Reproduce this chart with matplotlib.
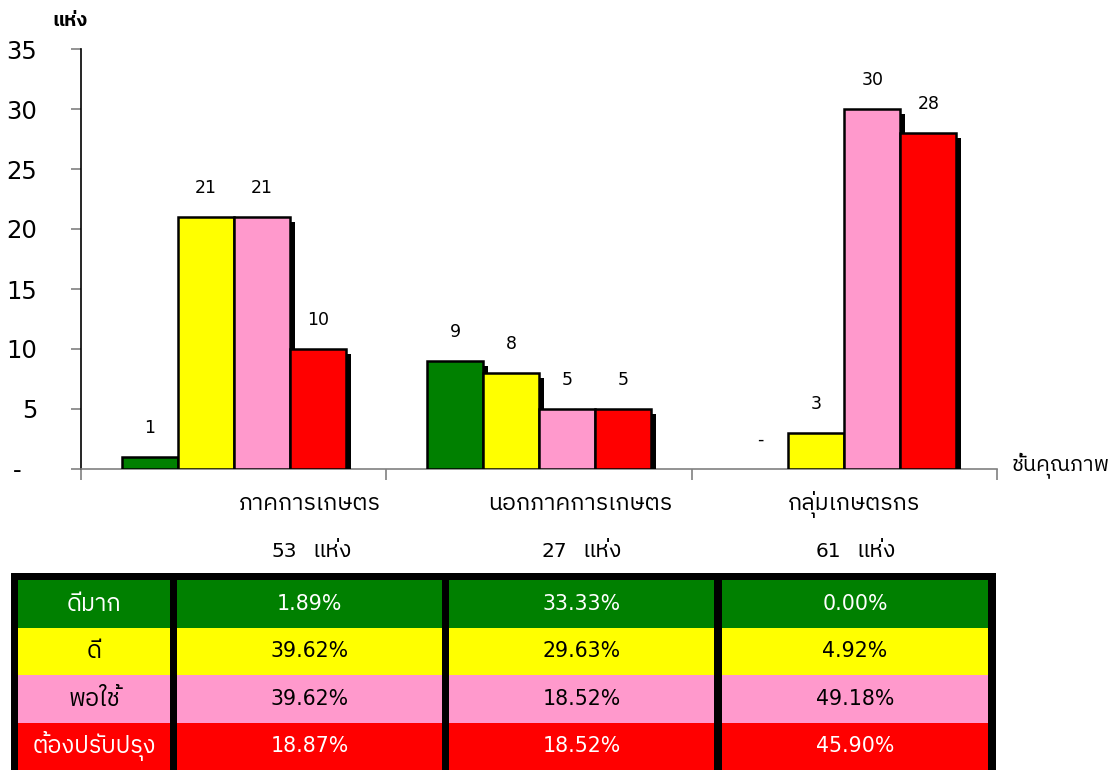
import numpy as np
import matplotlib
matplotlib.use("Agg")
import matplotlib.pyplot as plt
import matplotlib.patheffects as pe
from matplotlib import font_manager
from matplotlib.patches import Rectangle

# ---- data ----
categories = ["ภาคการเกษตร", "นอกภาคการเกษตร", "กลุ่มเกษตรกร"]
totals = [53, 27, 61]
levels = ["ดีมาก", "ดี", "พอใช้", "ต้องปรับปรุง"]
very_good = [1, 9, 0]
good = [21, 8, 3]
fair = [21, 5, 30]
improve = [10, 5, 28]
pct_agri = [1.89, 39.62, 39.62, 18.87]
pct_nonagri = [33.33, 29.63, 18.52, 18.52]
pct_group = [0.00, 4.92, 49.18, 45.90]
yticks = [0, 5, 10, 15, 20, 25, 30, 35]

colors = ["#008000", "#FFFF00", "#FF99CC", "#FF0000"]
text_colors = ["white", "black", "black", "white"]


def find_thai_font():
    try:
        from fontTools.ttLib import TTFont
    except Exception:
        return None
    found = []
    for f in font_manager.fontManager.ttflist:
        try:
            tt = TTFont(f.fname, fontNumber=0, lazy=True)
            cmap = tt.getBestCmap()
        except Exception:
            continue
        if cmap and 0x0E01 in cmap and 0x0E48 in cmap:
            found.append(f)
    if not found:
        return None
    found.sort(key=lambda f: (f.weight not in (400, "normal", "regular"),
                              "Thai" not in f.name))
    return found[0].name


thai = find_thai_font()
fams = ["DejaVu Sans"] + ([thai] if thai else [])
plt.rcParams["font.family"] = fams
TH = 1.19  # thai glyphs come out smaller than the latin ones, scale them up

fig = plt.figure(figsize=(11.09, 7.70), dpi=100)
W, H = 1109, 770

# ---- bar chart ----
ax = fig.add_axes([81 / W, 301 / H, 916 / W, 420 / H])
x = np.arange(len(categories))
w = 0.1834
series = [very_good, good, fair, improve]
shadow = [pe.SimplePatchShadow(offset=(3.6, -3.4), shadow_rgbFace="black", alpha=1.0),
          pe.Normal()]
for i, (vals, c) in enumerate(zip(series, colors)):
    pos = x + (i - 1.5) * w
    bars = ax.bar(pos, vals, width=w, color=c, edgecolor="black", linewidth=1.8,
                  zorder=3)
    for b, v in zip(bars, vals):
        if v == 0:
            b.set_visible(False)
        else:
            b.set_path_effects(shadow)
        ax.annotate(str(v) if v else "-", (b.get_x() + w / 2, v),
                    xytext=(0, 21), textcoords="offset points",
                    ha="center", va="center", fontsize=12.5)

ax.set_xlim(-0.5, len(categories) - 0.5)
ax.set_ylim(0, 35)
ax.set_yticks(yticks)
ax.set_yticklabels([str(t) if t else "-  " for t in yticks], fontsize=17.5)
ax.set_xticks(np.arange(len(categories) + 1) - 0.5)
ax.set_xticklabels([])
ax.tick_params(axis="y", direction="out", length=7.5, width=1.2, color="#808080", pad=24)
ax.tick_params(axis="x", direction="out", length=8, width=1.2, color="#808080")
for s in ["top", "right"]:
    ax.spines[s].set_visible(False)
ax.spines["left"].set_color("black")
ax.spines["left"].set_linewidth(1.2)
ax.spines["bottom"].set_color("#808080")
ax.spines["bottom"].set_linewidth(1.2)

# category labels and counts (positions as in the reference)
label_x = [310, 580, 854]
for cx, name, n in zip(label_x, categories, totals):
    fig.text(cx / W, 1 - 510 / H, name, ha="center", va="baseline", fontsize=14 * TH)
    fig.text((cx - 13) / W, 1 - 557 / H, str(n), ha="right", va="baseline", fontsize=14.5)
    fig.text((cx + 2) / W, 1 - 557 / H, "แห่ง", ha="left", va="baseline", fontsize=14 * TH)

fig.text(70 / W, 1 - 21 / H, "แห่ง", ha="center", va="center", fontsize=12 * TH,
         fontweight="bold")
fig.text(1061 / W, 1 - 465 / H, "ชั้นคุณภาพ", ha="center", va="center", fontsize=13 * TH)

# ---- table ----
tx = fig.add_axes([11 / W, 0, 985 / W, 197 / H])
tx.set_xlim(0, 985)
tx.set_ylim(0, 197)
tx.axis("off")
tx.add_patch(Rectangle((0, 0), 985, 197, color="black"))
col_edges = [(7, 159), (166, 431), (438, 703), (711, 977)]
row_h = 47.5
columns = [levels,
           [f"{v:.2f}%" for v in pct_agri],
           [f"{v:.2f}%" for v in pct_nonagri],
           [f"{v:.2f}%" for v in pct_group]]
for j, ((x0, x1), col) in enumerate(zip(col_edges, columns)):
    for r, txt in enumerate(col):
        y0 = 190 - (r + 1) * row_h
        tx.add_patch(Rectangle((x0, y0), x1 - x0, row_h, color=colors[r], lw=0))
        tx.text((x0 + x1) / 2, y0 + row_h / 2, txt, ha="center", va="center",
                fontsize=14.3 * TH if j == 0 else 14.8, color=text_colors[r])

fig.savefig("out.png", dpi=100)
